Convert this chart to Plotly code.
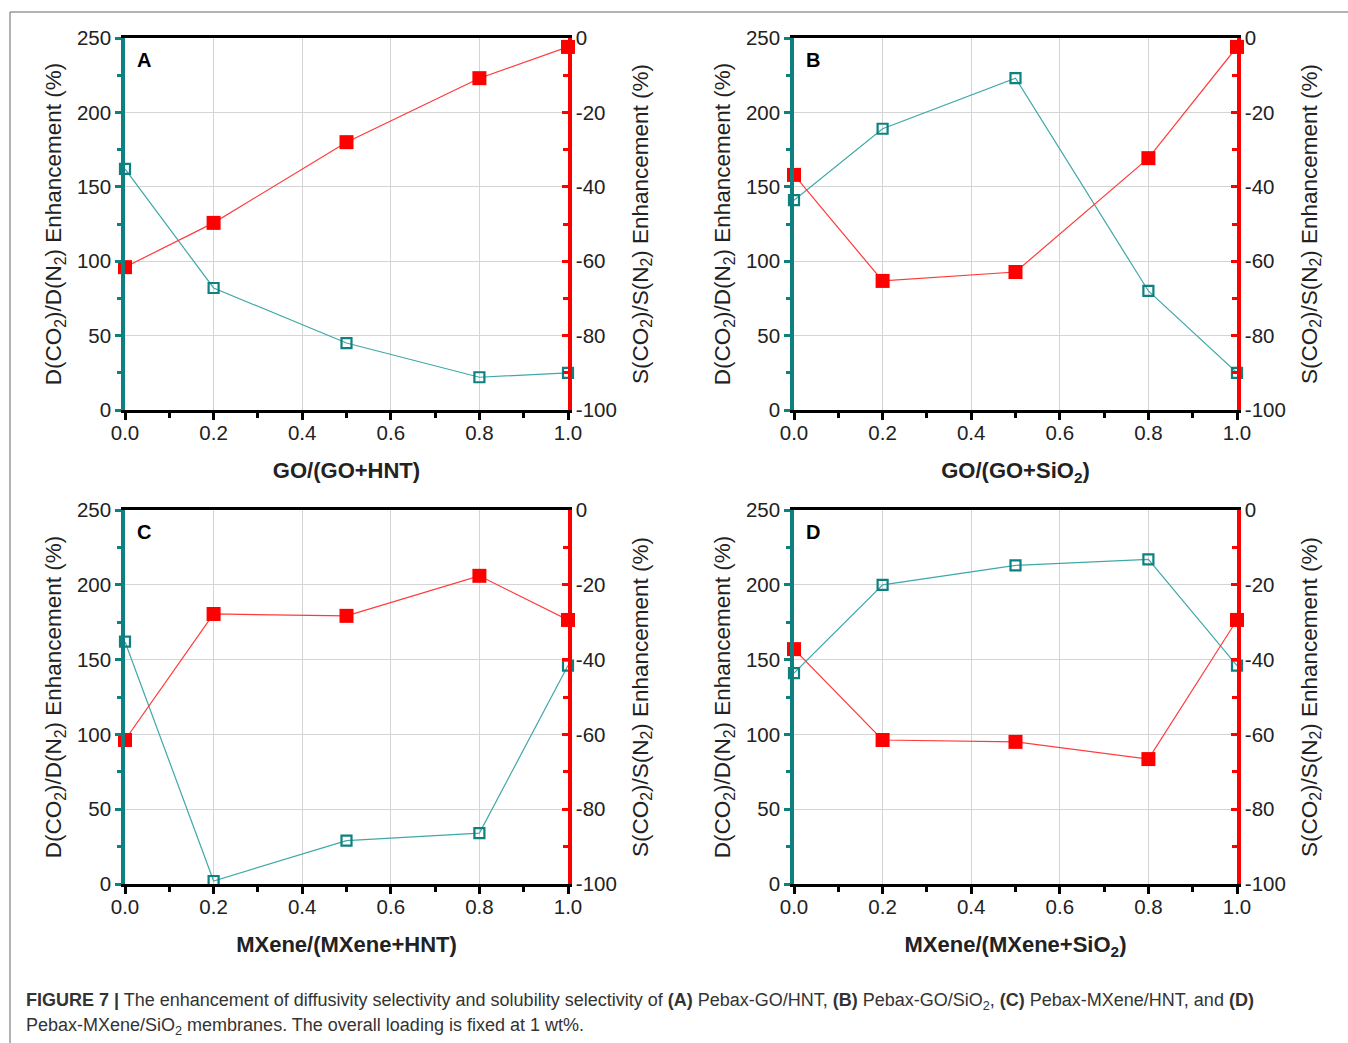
import plotly.graph_objects as go

W, H = 1348, 1043

# ---------------- data ----------------
ratio = [0.0, 0.2, 0.5, 0.8, 1.0]

d_A = [162, 82, 45, 22, 25]
s_A = [-61.6, -49.7, -28.0, -10.8, -2.4]

d_B = [141, 189, 223, 80, 25]
s_B = [-36.8, -65.3, -62.9, -32.3, -2.4]

d_C = [162, 2, 29, 34, 146]
s_C = [-61.5, -27.8, -28.3, -17.6, -29.4]

d_D = [141, 200, 213, 217, 146]
s_D = [-37.2, -61.5, -62.0, -66.6, -29.4]

panel_letters = ["A", "B", "C", "D"]
x_titles = ["GO/(GO+HNT)", "GO/(GO+SiO<sub>2</sub>)",
            "MXene/(MXene+HNT)", "MXene/(MXene+SiO<sub>2</sub>)"]
x_ticks = [0.0, 0.2, 0.4, 0.6, 0.8, 1.0]
x_ticklabels = ["0.0", "0.2", "0.4", "0.6", "0.8", "1.0"]
left_ticks = [0, 50, 100, 150, 200, 250]
right_ticks = [-100, -80, -60, -40, -20, 0]
right_ticklabels = ["-100", "-80", "-60", "-40", "-20", "0"]
left_title = "D(CO<sub>2</sub>)/D(N<sub>2</sub>) Enhancement (%)"
right_title = "S(CO<sub>2</sub>)/S(N<sub>2</sub>) Enhancement (%)"

D_series = [d_A, d_B, d_C, d_D]
S_series = [s_A, s_B, s_C, s_D]

# ---------------- layout geometry (pixels) ----------------
px_x = [(125, 568), (794, 1237), (125, 568), (794, 1237)]
px_y = [(38, 410), (38, 410), (510, 884), (510, 884)]

TEAL = "#0f8080"
TEAL_LINE = "#3fa8a8"
RED = "#ff0000"
RED_LINE = "#ff3a3a"
FONT = "Arial, Liberation Sans, sans-serif"

fig = go.Figure()
layout = dict(
    width=W, height=H, autosize=False,
    margin=dict(l=0, r=0, t=0, b=0, pad=0, autoexpand=False),
    paper_bgcolor="white", plot_bgcolor="white",
    showlegend=False,
    font=dict(family=FONT, color="#222222"),
)
annotations = []

for i in range(4):
    xn = "x" if i == 0 else f"x{i+1}"
    yl = f"y{2*i+1}" if i > 0 else "y"
    yr = f"y{2*i+2}"
    xkey = "xaxis" if i == 0 else f"xaxis{i+1}"
    ylkey = "yaxis" if i == 0 else f"yaxis{2*i+1}"
    yrkey = f"yaxis{2*i+2}"

    x0, x1 = px_x[i]
    y0, y1 = px_y[i]
    xdom = [x0 / W, x1 / W]
    ydom = [1 - y1 / H, 1 - y0 / H]

    fig.add_trace(go.Scatter(
        x=ratio, y=D_series[i], xaxis=xn, yaxis=yl, mode="lines+markers",
        line=dict(color=TEAL_LINE, width=1.2),
        marker=dict(symbol="square-open", size=10, color=TEAL, line=dict(width=2.2, color=TEAL)),
        cliponaxis=False))
    fig.add_trace(go.Scatter(
        x=ratio, y=S_series[i], xaxis=xn, yaxis=yr, mode="lines+markers",
        line=dict(color=RED_LINE, width=1.2),
        marker=dict(symbol="square", size=14, color=RED),
        cliponaxis=False))

    layout[xkey] = dict(
        domain=xdom, anchor=yl, range=[0, 1], automargin=False,
        tickvals=x_ticks, ticktext=x_ticklabels,
        ticks="outside", ticklen=7, tickwidth=2.5, tickcolor="black",
        ticklabelstandoff=-5,
        minor=dict(tickvals=[0.1, 0.3, 0.5, 0.7, 0.9], ticks="outside", ticklen=5,
                   tickwidth=2.5, tickcolor="black", showgrid=False),
        showline=True, linecolor="black", linewidth=3, mirror=True,
        showgrid=True, gridcolor="#d4d4d4", gridwidth=1,
        zeroline=False,
        tickfont=dict(size=20.5, color="#222222", family=FONT),
        title=dict(text="<b>" + x_titles[i] + "</b>", standoff=21,
                   font=dict(size=22, color="#222222", family=FONT)),
    )
    layout[ylkey] = dict(
        domain=ydom, anchor=xn, range=[0, 250], automargin=False,
        tickvals=left_ticks,
        ticks="outside", ticklen=6, tickwidth=2.5, tickcolor=TEAL,
        minor=dict(tickvals=[25, 75, 125, 175, 225], ticks="outside", ticklen=4,
                   tickwidth=2.5, tickcolor=TEAL, showgrid=False),
        showline=True, linecolor=TEAL, linewidth=3.5,
        showgrid=True, gridcolor="#d4d4d4", gridwidth=1,
        zeroline=False,
        tickfont=dict(size=20.5, color="#222222", family=FONT),
        title=dict(text=left_title, standoff=10,
                   font=dict(size=22.5, color="#222222", family=FONT)),
    )
    layout[yrkey] = dict(
        domain=ydom, anchor=xn, overlaying=yl, side="right", range=[-100, 0], automargin=False,
        tickvals=right_ticks, ticktext=right_ticklabels,
        ticks="inside", ticklen=6, tickwidth=2.5, tickcolor=RED,
        minor=dict(tickvals=[-90, -70, -50, -30, -10], ticks="inside", ticklen=5,
                   tickwidth=2.5, tickcolor=RED, showgrid=False),
        showline=True, linecolor=RED, linewidth=3.5,
        showgrid=False, zeroline=False,
        tickfont=dict(size=20.5, color="#222222", family=FONT),
        title=dict(text=right_title, standoff=17,
                   font=dict(size=22.5, color="#222222", family=FONT)),
    )
    annotations.append(dict(
        text="<b>" + panel_letters[i] + "</b>", xref="paper", yref="paper",
        x=(x0 + 10) / W, y=1 - (y0 + 22) / H, xanchor="left", yanchor="middle",
        showarrow=False, font=dict(size=20, color="black", family=FONT)))

annotations.append(dict(
    text="<b>FIGURE 7 |</b> The enhancement of diffusivity selectivity and solubility selectivity of "
         "<b>(A)</b> Pebax-GO/HNT, <b>(B)</b> Pebax-GO/SiO<sub>2</sub>, <b>(C)</b> Pebax-MXene/HNT, and <b>(D)</b>",
    xref="paper", yref="paper", x=24 / W, y=1 - 1001 / H, xanchor="left", yanchor="middle",
    showarrow=False, font=dict(size=18, color="#333333", family=FONT)))
annotations.append(dict(
    text="Pebax-MXene/SiO<sub>2</sub> membranes. The overall loading is fixed at 1 wt%.",
    xref="paper", yref="paper", x=24 / W, y=1 - 1026 / H, xanchor="left", yanchor="middle",
    showarrow=False, font=dict(size=18, color="#333333", family=FONT)))

layout["annotations"] = annotations
layout["shapes"] = [
    dict(type="line", xref="paper", yref="paper", x0=10 / W, x1=10 / W, y0=0, y1=1 - 12 / H,
         line=dict(color="#666666", width=1)),
    dict(type="line", xref="paper", yref="paper", x0=10 / W, x1=1, y0=1 - 12 / H, y1=1 - 12 / H,
         line=dict(color="#666666", width=1)),
]
fig.update_layout(**layout)
fig.write_html("out.html")

# remove the default page margin so the figure sits at the window's origin
with open("out.html", "r", encoding="utf-8") as f:
    html = f.read()
html = html.replace("<head>", "<head><style>html,body{margin:0;padding:0;overflow:hidden;}</style>", 1)
with open("out.html", "w", encoding="utf-8") as f:
    f.write(html)
